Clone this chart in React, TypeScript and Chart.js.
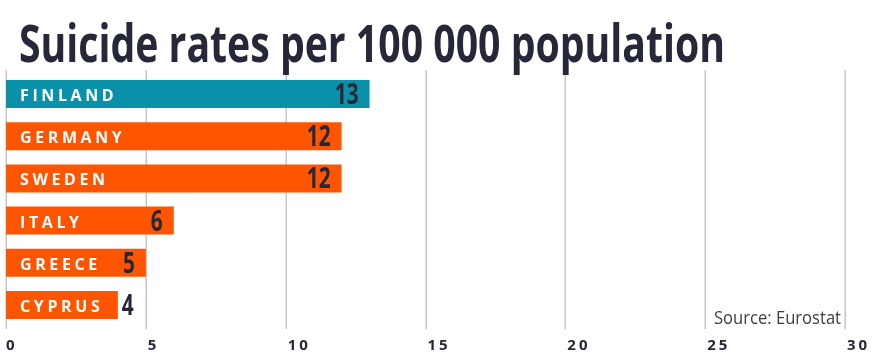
import React, { useEffect, useRef } from "react";
import { Chart, registerables } from "chart.js";

Chart.register(...registerables);

const TITLE = "Suicide rates per 100 000 population";
const SOURCE = "Source: Eurostat";
const countries = ["FINLAND", "GERMANY", "SWEDEN", "ITALY", "GREECE", "CYPRUS"];
const rates = [13, 12, 12, 6, 5, 4];
const highlight = ["FINLAND"];
const xTicks = [0, 5, 10, 15, 20, 25, 30];

const TEAL = "#0a91a9";
const ORANGE = "#ff5500";
const DARK = "#262839";

function drawText(
  ctx: CanvasRenderingContext2D,
  text: string,
  x: number,
  y: number,
  font: string,
  color: string,
  opts: { align?: string; sx?: number; spacing?: number; fitWidth?: number } = {}
) {
  ctx.save();
  ctx.font = font;
  (ctx as any).letterSpacing = (opts.spacing || 0) + "px";
  ctx.fillStyle = color;
  ctx.textBaseline = "alphabetic";
  ctx.textAlign = "left";
  const raw = ctx.measureText(text).width - (opts.spacing || 0);
  let sx = opts.sx || 1;
  if (opts.fitWidth) sx = opts.fitWidth / raw;
  const w = raw * sx;
  const left = opts.align === "right" ? x - w : x;
  ctx.translate(left, y);
  ctx.scale(sx, 1);
  ctx.fillText(text, 0, 0);
  ctx.restore();
  return w;
}

const decorPlugin = {
  id: "decor",
  beforeDatasetsDraw(chart: any) {
    const ctx = chart.ctx as CanvasRenderingContext2D;
    const xs = chart.scales.x;
    ctx.save();
    ctx.strokeStyle = "#c6c6c6";
    ctx.lineWidth = 1.5;
    xTicks.forEach((v) => {
      const px = Math.round(xs.getPixelForValue(v)) + 0.25;
      ctx.beginPath();
      ctx.moveTo(px, 70);
      ctx.lineTo(px, 329);
      ctx.stroke();
    });
    ctx.restore();
  },
  afterDatasetsDraw(chart: any) {
    const ctx = chart.ctx as CanvasRenderingContext2D;
    const xs = chart.scales.x;
    const meta = chart.getDatasetMeta(0);
    const labelFont = "bold 16px 'Open Sans'";
    const valueFont = "bold 29px 'Open Sans'";
    meta.data.forEach((bar: any, i: number) => {
      const cy = bar.y;
      const labelW = drawText(ctx, countries[i], 20, cy + 7, labelFont, "#ffffff", { spacing: 3.6 });
      const txt = String(rates[i]);
      ctx.save();
      ctx.font = valueFont;
      const vw = ctx.measureText(txt).width * 0.72;
      ctx.restore();
      const end = bar.x;
      const rightEdge = end - 11;
      if (rightEdge - vw < 20 + labelW + 8) {
        drawText(ctx, txt, end + 4, cy + 10, valueFont, DARK, { sx: 0.72 });
      } else {
        drawText(ctx, txt, rightEdge, cy + 10, valueFont, DARK, { sx: 0.72, align: "right" });
      }
    });
    xTicks.forEach((v) => {
      const px = xs.getPixelForValue(v);
      drawText(ctx, String(v), px + (v === 0 ? 0 : 2), 350, "bold 15px 'Open Sans'", DARK, { spacing: 3 });
    });
    drawText(ctx, SOURCE, 841, 324, "19px 'Open Sans'", "#3d3d3d", { align: "right", fitWidth: 127 });
    drawText(ctx, TITLE, 19, 62, "bold 52px 'Open Sans'", DARK, { fitWidth: 706 });
  },
};

export default function App() {
  const ref = useRef<HTMLCanvasElement | null>(null);
  useEffect(() => {
    if (!ref.current) return;
    const chart = new Chart(ref.current, {
      type: "bar",
      data: {
        labels: countries,
        datasets: [
          {
            data: rates,
            backgroundColor: countries.map((c) => (highlight.includes(c) ? TEAL : ORANGE)),
            borderWidth: 0,
            categoryPercentage: 1,
            barPercentage: 0.665,
          },
        ],
      },
      options: {
        indexAxis: "y",
        animation: false,
        responsive: false,
        devicePixelRatio: 1,
        layout: { padding: { left: 6, right: 48, top: 73, bottom: 37 } },
        plugins: { legend: { display: false }, tooltip: { enabled: false }, title: { display: false } },
        scales: {
          x: { display: false, min: 0, max: 30 },
          y: { display: false, offset: true },
        },
      },
      plugins: [decorPlugin],
    });
    return () => chart.destroy();
  }, []);
  return (
    <div style={{ position: "absolute", left: 0, top: 0, width: 893, height: 363, background: "#fff" }}>
      <canvas ref={ref} width={893} height={363} style={{ display: "block" }} />
    </div>
  );
}
